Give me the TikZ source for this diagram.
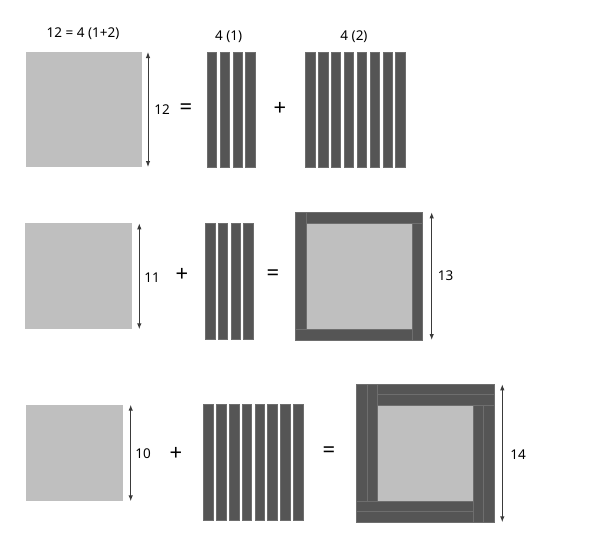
\documentclass[tikz,border=0pt]{standalone}
\usepackage{fontspec}
\setmainfont{Noto Sans}
\usetikzlibrary{arrows.meta}
\definecolor{sq}{HTML}{BFBFBF}
\definecolor{barc}{HTML}{555555}
\definecolor{seam}{HTML}{6E6E6E}
\definecolor{arr}{HTML}{3A3A3A}
\tikzset{
  sqbox/.style={fill=sq, draw=none},
  barv/.style={fill=barc, draw=seam, line width=0.6pt},
  dim/.style={draw=arr, line width=1pt, {Latex[length=6pt,width=4.5pt]}-{Latex[length=6pt,width=4.5pt]}},
  lbl/.style={font=\fontsize{13.5}{15}\selectfont, inner sep=0pt, text=black},
  op/.style={font=\fontsize{22}{24}\selectfont, inner sep=0pt, text=black},
}
\begin{document}
\begin{tikzpicture}[x=1pt,y=-1pt]
\useasboundingbox (0,0) rectangle (590,549);

% ---------- Row 1 ----------
\fill[sqbox] (26,52) rectangle (142,167);
\coordinate (a1t) at (148,52);
\coordinate (a1b) at (148,167);
\draw[dim] (a1t) -- (a1b);
\node[lbl] (l12) at (162,110) {12};
\node[op] (eq1) at (186,109) {=};
\foreach \i in {0,...,3} \fill[barv] ({207.3+12.75*\i},52) rectangle ++(9.3,115.5);
\node[op] (pl1) at (280,109) {+};
\foreach \i in {0,...,7} \fill[barv] ({305.7+12.86*\i},52) rectangle ++(9.3,115.5);
\node[lbl] (t1) at (83,34) {12 = 4 (1+2)};
\node[lbl] (t2) at (228.7,37) {4 (1)};
\node[lbl] (t3) at (354,37) {4 (2)};

% ---------- Row 2 ----------
\fill[sqbox] (25.3,223.3) rectangle (132.3,329.3);
\coordinate (a2t) at (139.3,223.3);
\coordinate (a2b) at (139.3,329.3);
\draw[dim] (a2t) -- (a2b);
\node[lbl] (l11) at (152,278) {11};
\node[op] (pl2) at (182,275) {+};
\foreach \i in {0,...,3} \fill[barv] ({205.3+12.8*\i},223.3) rectangle ++(9.6,116);
\node[op] (eq2) at (273,275) {=};
% frame 13
\fill[sqbox] (306.7,223.3) rectangle (412.3,329.3);
\fill[barv] (306.7,212.3) rectangle (422.7,223.3);
\fill[barv] (412.3,223.3) rectangle (422.7,340);
\fill[barv] (295,329.3) rectangle (412.3,340);
\fill[barv] (295,212.3) rectangle (306.7,329.3);
\coordinate (a3t) at (431.7,212.3);
\coordinate (a3b) at (431.7,340);
\draw[dim] (a3t) -- (a3b);
\node[lbl] (l13) at (445.7,276) {13};

% ---------- Row 3 ----------
\fill[sqbox] (25.7,404.7) rectangle (122.7,501.3);
\coordinate (a4t) at (130.7,404.7);
\coordinate (a4b) at (130.7,501.3);
\draw[dim] (a4t) -- (a4b);
\node[lbl] (l10) at (143,454) {10};
\node[op] (pl3) at (176,454) {+};
\foreach \i in {0,...,7} \fill[barv] ({203.7+12.8*\i},404.7) rectangle ++(9.6,116);
\node[op] (eq3) at (329,452) {=};
% frame 14
\fill[sqbox] (377.3,405) rectangle (473.3,501);
\fill[barv] (377.3,384.3) rectangle (494,394.7);
\fill[barv] (377.3,394.7) rectangle (494,405);
\fill[barv] (473.3,405) rectangle (483.7,522.3);
\fill[barv] (483.7,405) rectangle (494,522.3);
\fill[barv] (356.7,501) rectangle (473.3,511.7);
\fill[barv] (356.7,511.7) rectangle (473.3,522.3);
\fill[barv] (356.7,384.3) rectangle (367,501);
\fill[barv] (367,384.3) rectangle (377.3,501);
\coordinate (a5t) at (502.3,384.3);
\coordinate (a5b) at (502.3,522.3);
\draw[dim] (a5t) -- (a5b);
\node[lbl] (l14) at (518,455) {14};
\end{tikzpicture}
\end{document}
